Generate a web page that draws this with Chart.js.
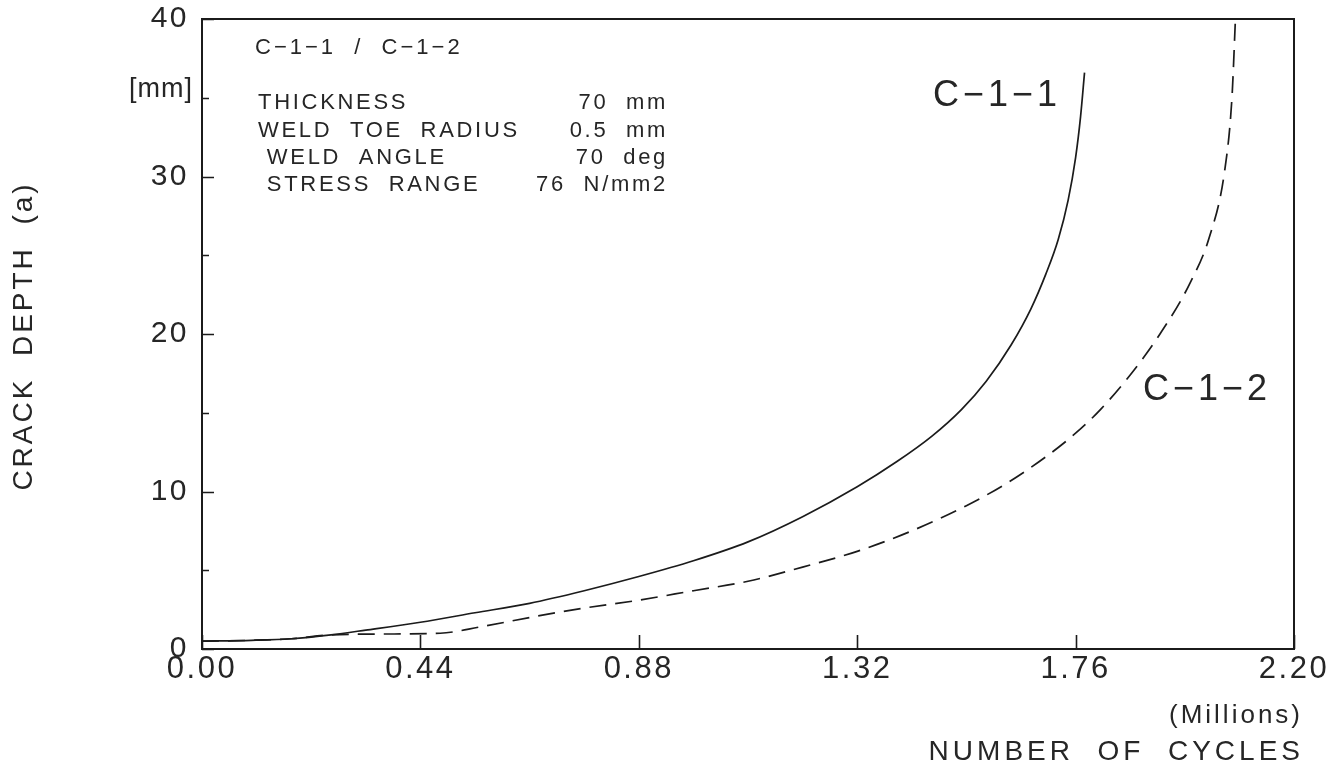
<!DOCTYPE html>
<html>
<head>
<meta charset="utf-8">
<title>Crack depth vs number of cycles</title>
<script src="https://cdn.jsdelivr.net/npm/chart.js@4.4.1/dist/chart.umd.min.js"></script>
<style>
  html, body { margin: 0; padding: 0; background: #ffffff; }
  #wrap { width: 1343px; height: 771px; }
  canvas { display: block; }
</style>
</head>
<body>
<div id="wrap"><canvas id="chart" width="1343" height="771"></canvas></div>
<script>
// Crack growth curves, specimens C-1-1 and C-1-2
const cyclesC11 = [0.00, 0.10, 0.18, 0.26, 0.33, 0.44, 0.55, 0.66, 0.77, 0.88, 0.99, 1.10, 1.21, 1.32, 1.40, 1.47, 1.53, 1.58, 1.63, 1.67, 1.70, 1.725, 1.745, 1.760, 1.770, 1.778];
const depthC11  = [0.5, 0.55, 0.65, 0.9, 1.2, 1.7, 2.3, 2.9, 3.7, 4.6, 5.6, 6.8, 8.4, 10.3, 11.9, 13.5, 15.2, 17.0, 19.3, 21.6, 23.8, 26.0, 28.5, 31.2, 33.8, 36.6];

const cyclesC12 = [0.00, 0.10, 0.18, 0.26, 0.36, 0.48, 0.56, 0.66, 0.77, 0.88, 0.99, 1.10, 1.21, 1.32, 1.43, 1.54, 1.62, 1.70, 1.76, 1.81, 1.87, 1.93, 1.99, 2.03, 2.06, 2.075, 2.082];
const depthC12  = [0.5, 0.55, 0.65, 0.9, 0.95, 1.0, 1.4, 2.0, 2.6, 3.1, 3.7, 4.3, 5.2, 6.2, 7.5, 9.1, 10.5, 12.2, 13.7, 15.2, 17.4, 20.0, 23.2, 26.2, 30.3, 35.0, 40.0];

const xTickValues = [0.00, 0.44, 0.88, 1.32, 1.76, 2.20];
const yTickStep = 5;
const yLabelStep = 10;

const seriesNames = ['C\u22121\u22121', 'C\u22121\u22122'];
const headerText = 'C\u22121\u22121  /  C\u22121\u22122';
const paramNames  = ['THICKNESS', 'WELD  TOE  RADIUS', ' WELD  ANGLE', ' STRESS  RANGE'];
const paramValues = ['70  mm', '0.5  mm', '70  deg', '76  N/mm2'];

const INK = '#1b1b1b';
const TEXT = '#262626';
const FONT = '"Liberation Sans", Arial, sans-serif';

const toPoints = (xs, ys) => xs.map((x, i) => ({ x: x, y: ys[i] }));

// Inward tick marks, frame and text annotations
const decorations = {
  id: 'decorations',
  beforeDraw(chart) {
    chart.ctx.letterSpacing = '2.5px';
  },
  afterDraw(chart) {
    const { ctx, chartArea: a, scales } = chart;
    const xs = scales.x, ys = scales.y;
    ctx.save();
    ctx.strokeStyle = INK;
    ctx.lineWidth = 2;
    ctx.strokeRect(a.left, a.top, a.right - a.left, a.bottom - a.top);

    ctx.lineWidth = 1.6;
    ctx.beginPath();
    ys.ticks.forEach(t => {
      const py = Math.round(ys.getPixelForValue(t.value)) + 0.5;
      const len = (t.value % yLabelStep === 0) ? 12 : 7;
      ctx.moveTo(a.left, py);
      ctx.lineTo(a.left + len, py);
    });
    xTickValues.forEach(v => {
      const px = Math.round(xs.getPixelForValue(v)) + 0.5;
      ctx.moveTo(px, a.bottom);
      ctx.lineTo(px, a.bottom - 14);
    });
    ctx.stroke();

    ctx.fillStyle = TEXT;
    ctx.textBaseline = 'middle';

    // header and specimen parameters
    ctx.letterSpacing = '3px';
    ctx.font = '22px ' + FONT;
    ctx.textAlign = 'left';
    ctx.fillText(headerText, 255, 48);
    ctx.letterSpacing = '2.7px';
    const rowY = [103, 131, 158, 185];
    paramNames.forEach((n, i) => ctx.fillText(n, 258, rowY[i]));
    ctx.textAlign = 'right';
    paramValues.forEach((v, i) => ctx.fillText(v, 668, rowY[i]));

    // curve labels
    ctx.letterSpacing = '4px';
    ctx.font = '36px ' + FONT;
    ctx.textAlign = 'left';
    ctx.fillText(seriesNames[0], 933, 96);
    ctx.fillText(seriesNames[1], 1143, 390);

    // axis captions
    ctx.letterSpacing = '1px';
    ctx.font = '27px ' + FONT;
    ctx.textAlign = 'right';
    ctx.fillText('[mm]', 193, 90);
    ctx.letterSpacing = '3px';
    ctx.font = '26px ' + FONT;
    ctx.fillText('(Millions)', 1303, 716);
    ctx.letterSpacing = '4px';
    ctx.font = '28px ' + FONT;
    ctx.fillText('NUMBER  OF  CYCLES', 1304, 752);

    ctx.translate(24, 336);
    ctx.rotate(-Math.PI / 2);
    ctx.textAlign = 'center';
    ctx.letterSpacing = '3px';
    ctx.fillText('CRACK  DEPTH  (a)', 0, 0);
    ctx.restore();
  }
};

new Chart(document.getElementById('chart'), {
  type: 'line',
  data: {
    datasets: [
      {
        label: seriesNames[0],
        data: toPoints(cyclesC11, depthC11),
        borderColor: INK,
        borderWidth: 1.7,
        pointRadius: 0,
        fill: false,
        cubicInterpolationMode: 'monotone'
      },
      {
        label: seriesNames[1],
        data: toPoints(cyclesC12, depthC12),
        borderColor: INK,
        borderWidth: 1.7,
        borderDash: [17, 9],
        pointRadius: 0,
        fill: false,
        cubicInterpolationMode: 'monotone'
      }
    ]
  },
  options: {
    responsive: false,
    animation: false,
    events: [],
    layout: { padding: { left: 0, top: 19, right: 49, bottom: 0 } },
    plugins: { legend: { display: false }, tooltip: { enabled: false } },
    scales: {
      x: {
        type: 'linear',
        min: 0,
        max: 2.2,
        afterBuildTicks: s => { s.ticks = xTickValues.map(v => ({ value: v })); },
        afterFit: s => { s.height = 122; s.paddingLeft = 0; s.paddingRight = 0; },
        grid: { display: false, drawTicks: false },
        border: { display: false },
        ticks: {
          autoSkip: false,
          maxRotation: 0,
          padding: 2,
          color: TEXT,
          font: { family: FONT, size: 31 },
          callback: v => Number(v).toFixed(2)
        }
      },
      y: {
        type: 'linear',
        min: 0,
        max: 40,
        afterFit: s => { s.width = 202; s.paddingTop = 0; s.paddingBottom = 0; },
        grid: { display: false, drawTicks: false },
        border: { display: false },
        ticks: {
          stepSize: yTickStep,
          padding: 13,
          color: TEXT,
          font: { family: FONT, size: 30 },
          callback: v => (v % yLabelStep === 0 ? String(v) : '')
        }
      }
    }
  },
  plugins: [decorations]
});
</script>
</body>
</html>
